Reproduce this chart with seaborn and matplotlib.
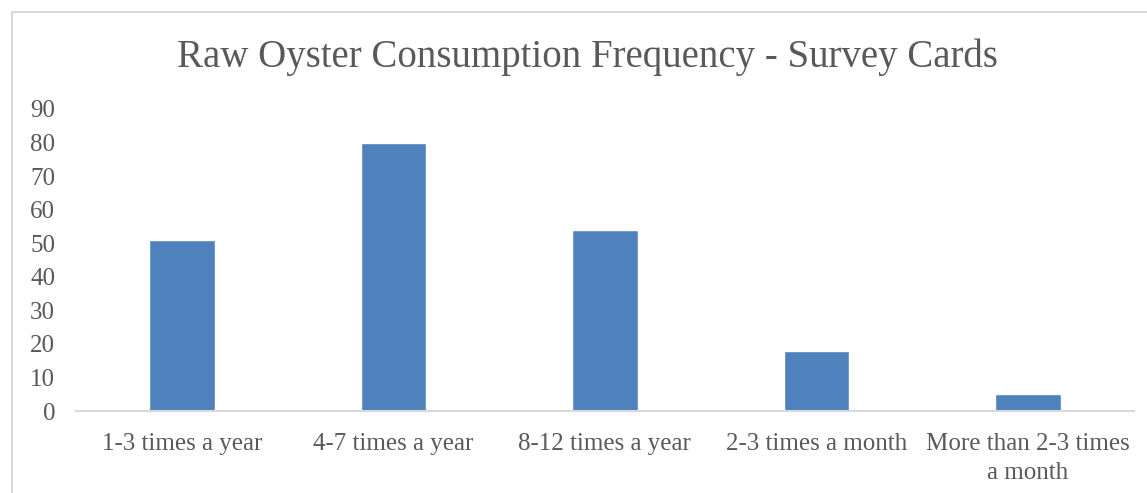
import pandas as pd
import matplotlib
matplotlib.use("Agg")
import matplotlib.pyplot as plt
from matplotlib.lines import Line2D
import seaborn as sns

# survey card answers
categories = ["1-3 times a year", "4-7 times a year", "8-12 times a year",
              "2-3 times a month", "More than 2-3 times\na month"]
counts = [51, 80, 54, 18, 5]
y_ticks = [0, 10, 20, 30, 40, 50, 60, 70, 80, 90]

df = pd.DataFrame({"freq": categories, "count": counts})

sns.set_style("white")
plt.rcParams["font.family"] = ["Liberation Serif", "DejaVu Serif"]
text_col = "#595959"

fig = plt.figure(figsize=(11.47, 4.93), dpi=100)
ax = fig.add_axes([0.0663, 0.1663, 0.922, 0.6127])

sns.barplot(data=df, x="freq", y="count", color="#4f81bd", saturation=1,
            width=0.31, ax=ax)

ax.set_ylim(0, 90)
ax.set_yticks(y_ticks)
ax.set_xlim(-0.5, 4.5)
ax.set_xlabel("")
ax.set_ylabel("")
ax.tick_params(axis="both", length=0, labelsize=18, colors=text_col)
ax.tick_params(axis="y", pad=15)
ax.tick_params(axis="x", pad=16)
for lab in ax.get_xticklabels():
    lab.set_linespacing(1.4)

for s in ["top", "right", "left"]:
    ax.spines[s].set_visible(False)
ax.spines["bottom"].set_color("#d9d9d9")
ax.spines["bottom"].set_linewidth(1.5)

fig.text(0.512, 0.884, "Raw Oyster Consumption Frequency - Survey Cards",
         ha="center", va="center", fontsize=28, color=text_col)

# outer chart frame (only left and top edges are in view)
fig.add_artist(Line2D([12 / 1147, 12 / 1147], [0, 1 - 12 / 493],
                      transform=fig.transFigure, color="#d9d9d9", lw=1.5))
fig.add_artist(Line2D([12 / 1147, 1], [1 - 12 / 493, 1 - 12 / 493],
                      transform=fig.transFigure, color="#d9d9d9", lw=1.5))

fig.savefig("out.png", dpi=100)
